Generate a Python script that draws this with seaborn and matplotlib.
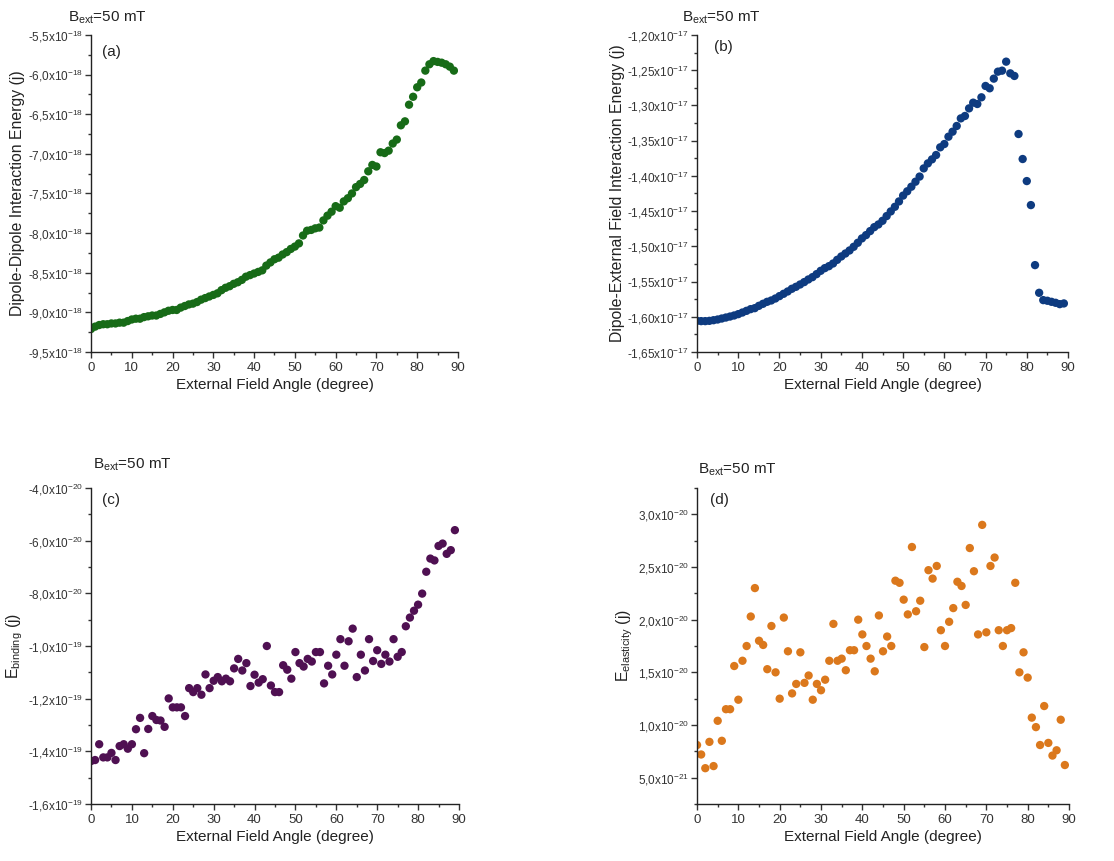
## Field angle dependence of the interaction energies at B_ext = 50 mT

import numpy as np
import pandas as pd
import seaborn as sns
import matplotlib.pyplot as plt
from matplotlib.ticker import MultipleLocator, FuncFormatter

# external field angle (degree)
angle = list(range(0, 90))

# (a) dipole-dipole interaction energy, in 1e-18 J
e_dd = [-9.21, -9.18, -9.16, -9.15, -9.15, -9.14, -9.14, -9.13, -9.13, -9.11,
        -9.09, -9.08, -9.08, -9.06, -9.05, -9.04, -9.04, -9.02, -9.00, -8.98,
        -8.97, -8.97, -8.94, -8.92, -8.90, -8.89, -8.87, -8.84, -8.82, -8.80,
        -8.78, -8.76, -8.72, -8.69, -8.67, -8.64, -8.62, -8.59, -8.55, -8.53,
        -8.51, -8.49, -8.47, -8.41, -8.37, -8.33, -8.31, -8.27, -8.24, -8.20,
        -8.17, -8.13, -8.03, -7.97, -7.96, -7.94, -7.93, -7.84, -7.78, -7.73,
        -7.66, -7.68, -7.60, -7.56, -7.50, -7.42, -7.38, -7.33, -7.22, -7.14,
        -7.16, -6.98, -6.99, -6.96, -6.87, -6.82, -6.64, -6.59, -6.38, -6.28,
        -6.16, -6.10, -5.95, -5.87, -5.83, -5.84, -5.85, -5.87, -5.90, -5.95]

# (b) dipole-external field interaction energy, in 1e-17 J
e_dext = [-1.6058, -1.6062, -1.6062, -1.6058, -1.6049, -1.6039, -1.6025, -1.6011, -1.5997, -1.5982,
          -1.5963, -1.5940, -1.5916, -1.5892, -1.5878, -1.5845, -1.5816, -1.5788, -1.5769, -1.5741,
          -1.5707, -1.5674, -1.5641, -1.5603, -1.5575, -1.5542, -1.5508, -1.5471, -1.5438, -1.5395,
          -1.5348, -1.5310, -1.5282, -1.5244, -1.5192, -1.5144, -1.5102, -1.5059, -1.5007, -1.4950,
          -1.4888, -1.4841, -1.4784, -1.4728, -1.4690, -1.4638, -1.4571, -1.4505, -1.4439, -1.4363,
          -1.4280, -1.4219, -1.4154, -1.4083, -1.4010, -1.3894, -1.3823, -1.3766, -1.3704, -1.3595,
          -1.3548, -1.3444, -1.3373, -1.3292, -1.3184, -1.3150, -1.3042, -1.2961, -1.2980, -1.2885,
          -1.2724, -1.2757, -1.2620, -1.2521, -1.2507, -1.2379, -1.2545, -1.2582, -1.3406, -1.3761,
          -1.4074, -1.4415, -1.5267, -1.5660, -1.5764, -1.5773, -1.5788, -1.5802, -1.5821, -1.5811]

# (c) binding energy, in 1e-20 J
e_bind = [-14.37, -14.33, -13.73, -14.23, -14.23, -14.06, -14.33, -13.80, -13.73, -13.90,
          -13.73, -13.16, -12.73, -14.07, -13.15, -12.66, -12.81, -12.83, -13.07, -11.99,
          -12.33, -12.33, -12.33, -12.66, -11.60, -11.75, -11.60, -11.85, -11.08, -11.60,
          -11.32, -11.18, -11.34, -11.24, -11.34, -10.85, -10.49, -10.93, -10.65, -11.52,
          -11.09, -11.39, -11.26, -10.00, -11.50, -11.75, -11.75, -10.73, -10.90, -11.24,
          -10.23, -10.65, -10.78, -10.49, -10.59, -10.23, -10.23, -11.42, -10.75, -11.08,
          -10.33, -9.74, -10.75, -9.82, -9.34, -11.18, -10.33, -10.93, -9.74, -10.57,
          -10.16, -10.68, -10.33, -10.59, -9.74, -10.41, -10.23, -9.25, -8.92, -8.66,
          -8.43, -8.01, -7.18, -6.68, -6.75, -6.20, -6.11, -6.50, -6.36, -5.60]

# (d) elasticity energy, in 1e-20 J
e_elast = [0.81, 0.72, 0.59, 0.84, 0.61, 1.04, 0.85, 1.15, 1.15, 1.56,
           1.24, 1.61, 1.75, 2.03, 2.30, 1.80, 1.76, 1.53, 1.94, 1.50,
           1.25, 2.02, 1.70, 1.30, 1.39, 1.69, 1.40, 1.47, 1.24, 1.39,
           1.33, 1.43, 1.61, 1.96, 1.61, 1.63, 1.52, 1.71, 1.71, 2.00,
           1.86, 1.75, 1.63, 1.51, 2.04, 1.70, 1.84, 1.75, 2.37, 2.35,
           2.19, 2.05, 2.69, 2.08, 2.18, 1.74, 2.47, 2.39, 2.51, 1.90,
           1.75, 1.98, 2.11, 2.36, 2.32, 2.14, 2.68, 2.46, 1.86, 2.90,
           1.88, 2.51, 2.59, 1.90, 1.75, 1.90, 1.92, 2.35, 1.50, 1.69,
           1.45, 1.07, 0.98, 0.81, 1.18, 0.83, 0.71, 0.76, 1.05, 0.62]

df = pd.DataFrame({
    'angle': angle,
    'dd': np.array(e_dd) * 1e-18,
    'dext': np.array(e_dext) * 1e-17,
    'bind': np.array(e_bind) * 1e-20,
    'elast': np.array(e_elast) * 1e-20,
})

sns.set_style('ticks')
plt.rcParams['font.family'] = ['Liberation Sans', 'DejaVu Sans']
plt.rcParams['mathtext.fontset'] = 'custom'
plt.rcParams['mathtext.rm'] = 'Liberation Sans'
plt.rcParams['mathtext.it'] = 'Liberation Sans:italic'
plt.rcParams['mathtext.bf'] = 'Liberation Sans:bold'


def sci_fmt(decimals):
    # 1,5x10^-20 style labels with a decimal comma
    def f(v, pos):
        if v == 0:
            return '0'
        exp = int(np.floor(np.log10(abs(v)) + 1e-9))
        mant = v / 10 ** exp
        txt = f'{mant:.{decimals}f}'.replace('.', ',')
        return txt + r'x10$^{' + str(exp) + '}$'
    return FuncFormatter(f)


fig = plt.figure(figsize=(11.14, 8.61), dpi=100)

panels = [
    # column, colour, ylim, major, minor, decimals, ylabel, letter, rect, title pos, letter pos
    ('dd', '#176b17', (-9.5e-18, -5.5e-18), 0.5e-18, 0.25e-18, 1,
     'Dipole-Dipole Interaction Energy (j)', '(a)',
     [0.0817, 0.5912, 0.3294, 0.3682], (-0.063, 1.055), (0.030, 0.946)),
    ('dext', '#0e3b80', (-1.65e-17, -1.20e-17), 0.05e-17, 0.025e-17, 2,
     'Dipole-External Field Interaction Energy (j)', '(b)',
     [0.6257, 0.5912, 0.3330, 0.3682], (-0.040, 1.055), (0.045, 0.962)),
    ('bind', '#4f1052', (-1.6e-19, -4.0e-20), 2e-20, 1e-20, 1,
     r'E$_{\mathrm{binding}}$ (j)', '(c)',
     [0.0817, 0.0662, 0.3303, 0.3670], (0.005, 1.072), (0.030, 0.962)),
    ('elast', '#db781c', (2.5e-21, 3.25e-20), 5e-21, 2.5e-21, 1,
     r'E$_{\mathrm{elasticity}}$ (j)', '(d)',
     [0.6257, 0.0662, 0.3339, 0.3670], (0.003, 1.058), (0.035, 0.962)),
]

for col, color, ylim, major, minor, dec, ylabel, letter, rect, tpos, lpos in panels:
    ax = fig.add_axes(rect)
    sns.scatterplot(data=df, x='angle', y=col, color=color, s=36,
                    edgecolor='none', linewidth=0, ax=ax)
    ax.set_xlim(0, 90)
    ax.set_ylim(*ylim)
    ax.xaxis.set_major_locator(MultipleLocator(10))
    ax.xaxis.set_minor_locator(MultipleLocator(5))
    ax.yaxis.set_major_locator(MultipleLocator(major))
    ax.yaxis.set_minor_locator(MultipleLocator(minor))
    ax.yaxis.set_major_formatter(sci_fmt(dec))
    ax.tick_params(which='major', length=4, width=1, pad=2, colors='#333333')
    ax.tick_params(axis='y', which='major', labelsize=8.5)
    ax.tick_params(axis='x', which='major', labelsize=9.5, pad=3)
    ax.tick_params(which='minor', length=2.5, width=1, colors='#333333')
    ax.set_xlabel('External Field Angle (degree)', fontsize=11, color='#222222', labelpad=3)
    ax.set_ylabel(ylabel, fontsize=11.3, color='#222222', labelpad=2)
    ax.text(tpos[0], tpos[1], r'B$_{\mathrm{ext}}$=50 mT', transform=ax.transAxes,
            fontsize=11, va='center', ha='left', color='#222222')
    ax.text(lpos[0], lpos[1], letter, transform=ax.transAxes,
            fontsize=11, va='center', ha='left', color='#222222')
    sns.despine(ax=ax)
    for sp in ['left', 'bottom']:
        ax.spines[sp].set_linewidth(1)
        ax.spines[sp].set_color('#222222')

fig.savefig('out.png', dpi=100)
